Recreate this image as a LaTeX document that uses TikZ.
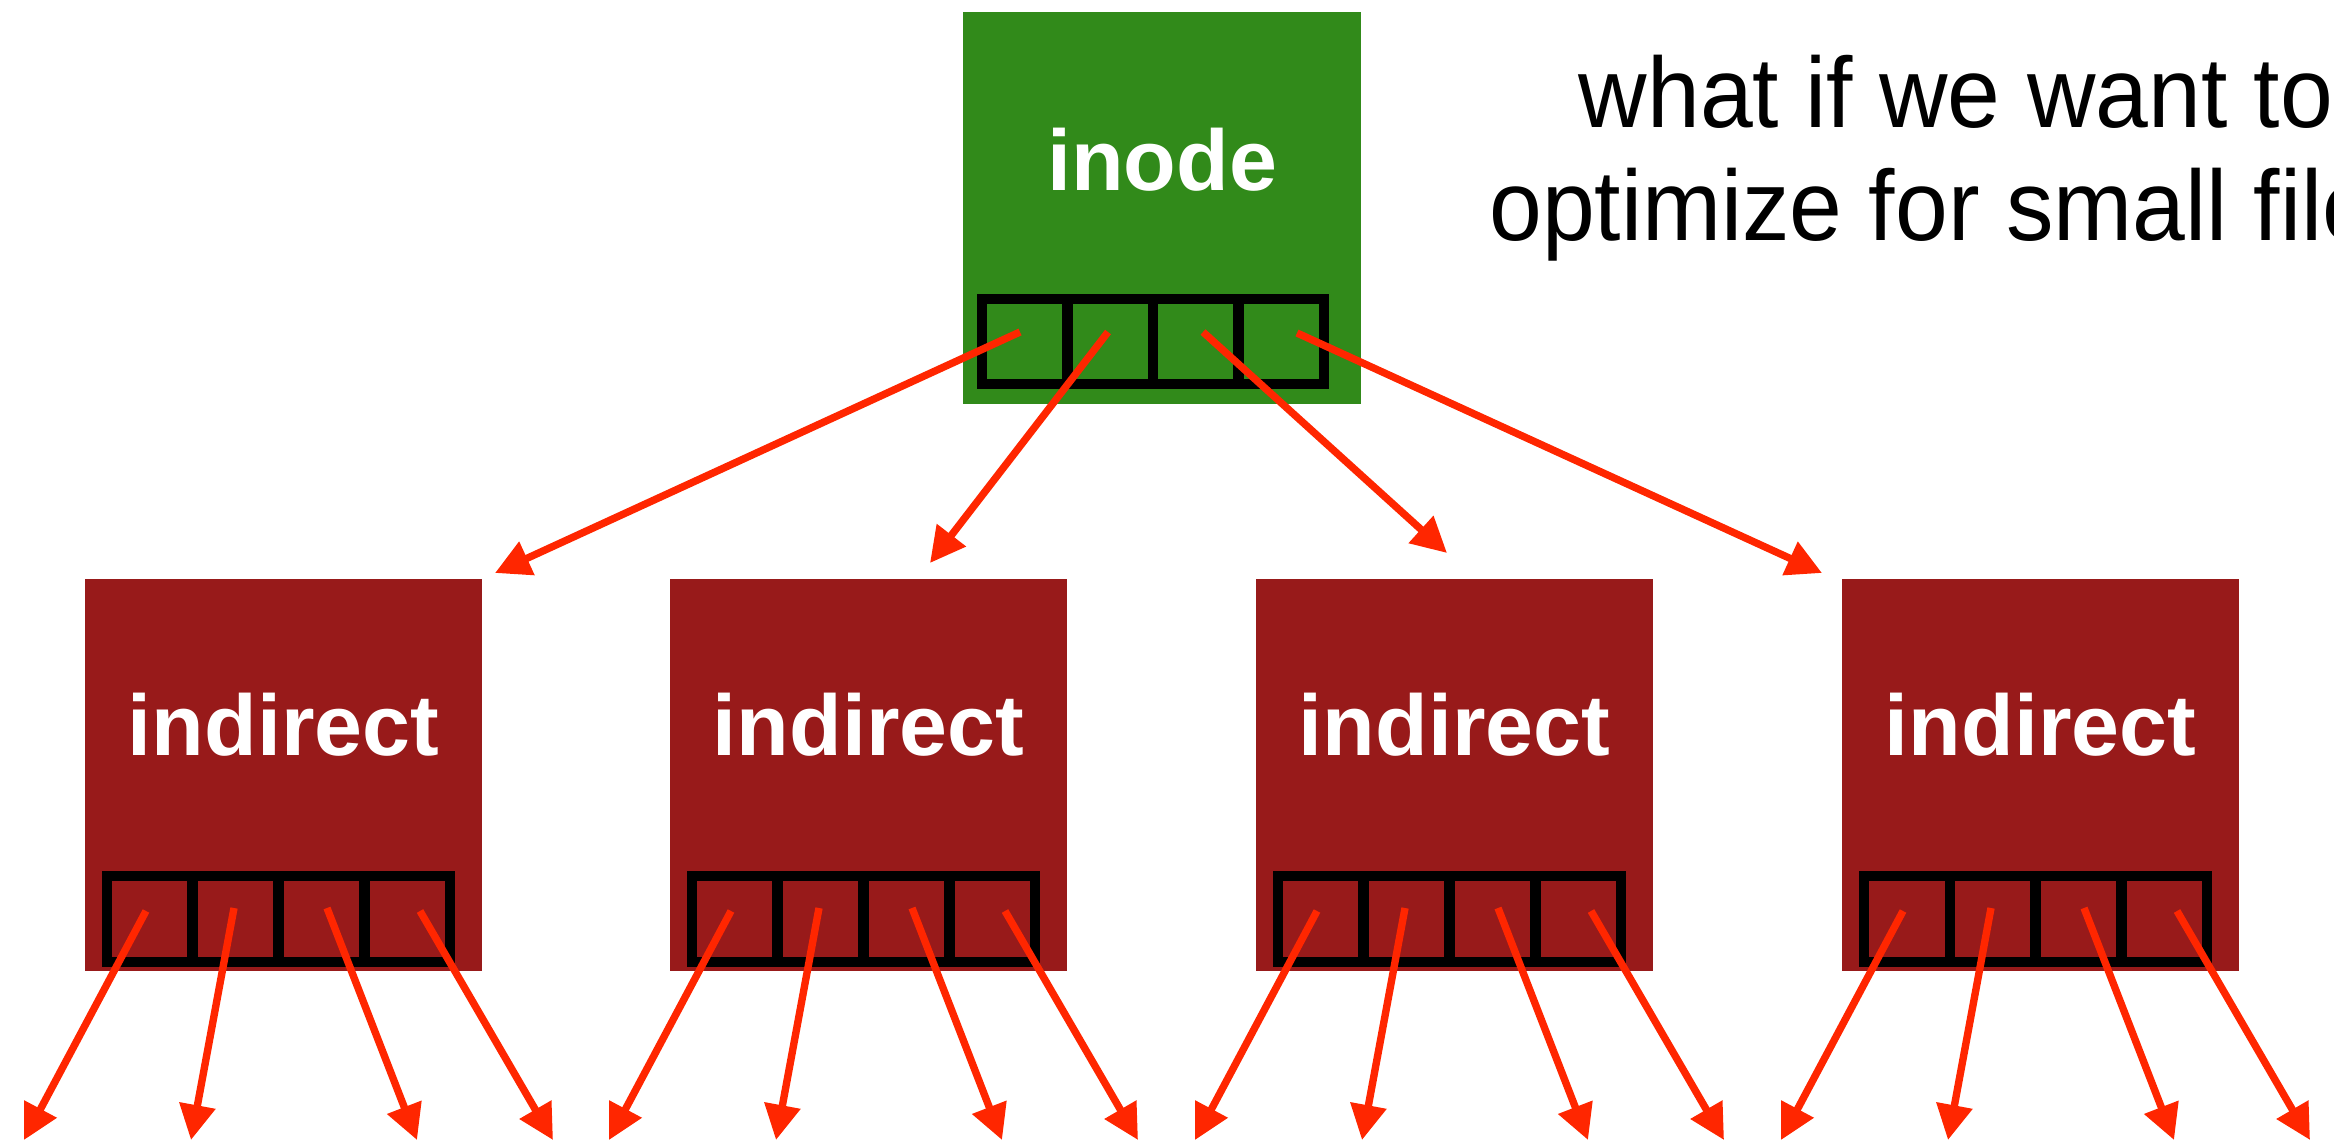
\documentclass[tikz,border=0pt]{standalone}
\usepackage{fontspec}
\setmainfont{Liberation Sans}
\newfontfamily\notefont{Liberation Sans}[FakeStretch=0.95]
\usetikzlibrary{arrows.meta}
\definecolor{inodegreen}{RGB}{49,138,26}
\definecolor{blockred}{RGB}{152,26,26}
\definecolor{ptrred}{RGB}{255,38,0}

\begin{document}
\begin{tikzpicture}[x=0.01cm,y=-0.01cm,
  blk/.style={rectangle, inner sep=0pt, outer sep=0pt, minimum width=3.97cm,
              minimum height=3.92cm, anchor=north west},
  lbl/.style={text=white, font=\fontsize{24.5}{28}\selectfont\bfseries,
              anchor=base, inner sep=0pt},
  slots/.style={draw=black, line width=3pt},
  ptr/.style={draw=ptrred, line width=2.1pt, -{Triangle[length=10pt,width=10pt]}}]

\useasboundingbox (0,0) rectangle (2334,1143);

% inode block with its four pointer slots
\node[blk, fill=inodegreen, minimum width=3.98cm] (inode) at (963,12) {};
\node[lbl] (inodelbl) at (1162,191) {inode};
\begin{scope}[shift={(963,12)}]
  \draw[slots] (19,287) rectangle (361,372);
  \foreach \d in {104.5,190,275.5} \draw[slots] (\d,287) -- (\d,372);
  \coordinate (s1) at (57,320);
  \coordinate (s2) at (145,320);
  \coordinate (s3) at (240,320);
  \coordinate (s4) at (334,321);
\end{scope}

% indirect blocks, each with four slots pointing further down
\foreach \i/\bx in {1/85,2/670,3/1256,4/1842} {
  \node[blk, fill=blockred] (ind\i) at (\bx,579) {};
  \node[lbl] (indlbl\i) at (\bx+198.5,755) {indirect};
  \begin{scope}[shift={(\bx,579)}]
    \draw[slots] (22,297) rectangle (365,383);
    \foreach \d in {107.75,193.5,279.25} \draw[slots] (\d,297) -- (\d,383);
    \coordinate (p\i a) at (61,332);
    \coordinate (p\i b) at (149,329);
    \coordinate (p\i c) at (242,329);
    \coordinate (p\i d) at (335,332);
    \coordinate (q\i a) at (-61,561);
    \coordinate (q\i b) at (106,561);
    \coordinate (q\i c) at (332,561);
    \coordinate (q\i d) at (468,561);
  \end{scope}
  \foreach \k in {a,b,c,d} \draw[ptr] (p\i\k) -- (q\i\k);
}

% pointers from the inode to the indirect blocks
\coordinate (t1) at (495,573);
\coordinate (t2) at (930,563);
\coordinate (t3) at (1447,553);
\coordinate (t4) at (1822,573);
\foreach \k in {1,2,3,4} \draw[ptr] (s\k) -- (t\k);

% side note (anchored on the baseline of its last line)
\node[anchor=base, align=center, inner sep=0pt,
      font=\notefont\fontsize{28.4}{32.4}\selectfont] (note) at (1956,241)
  {what if we want to\\optimize for small files};
\end{tikzpicture}
\end{document}
